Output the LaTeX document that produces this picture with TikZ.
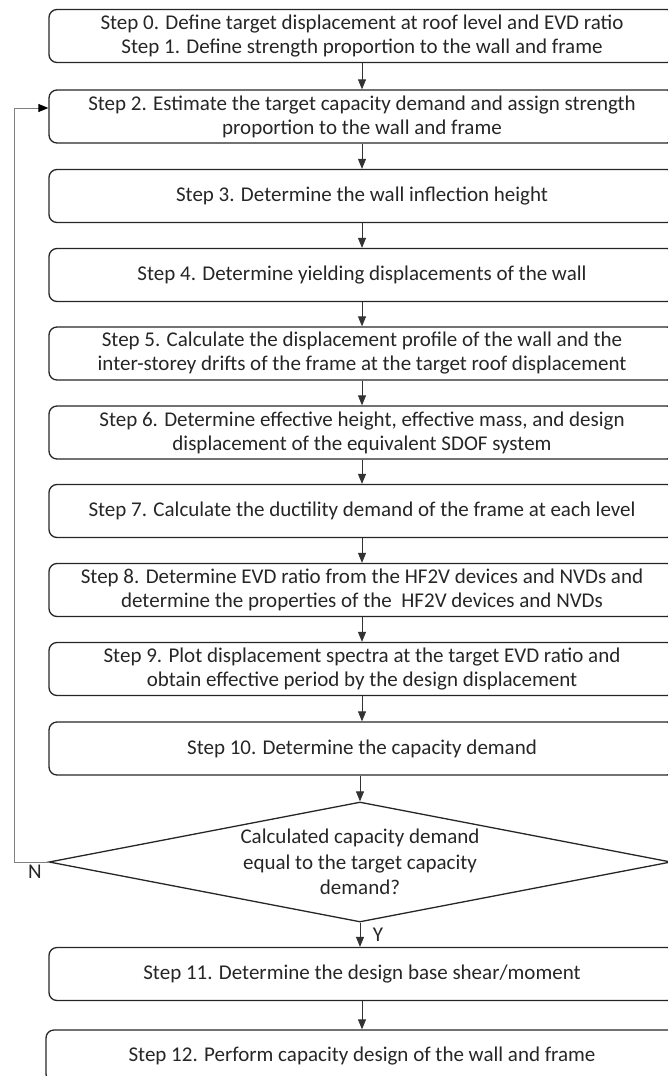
\documentclass[tikz,border=0pt]{standalone}
\usepackage{fontspec}
\setmainfont{Carlito}
\usetikzlibrary{shapes.geometric,arrows.meta}
\begin{document}
\begin{tikzpicture}[x=1pt,y=-1pt,
  stepbox/.style={draw=black!85, line width=1.3pt, rounded corners=8pt, minimum width=626pt, minimum height=53pt, inner sep=0pt, align=center, font=\fontsize{21}{24}\selectfont, text=black!85},
  decision/.style={diamond, draw=black!85, line width=1.3pt, minimum width=622pt, minimum height=120pt, inner sep=0pt, shape aspect=5.18, align=center, font=\fontsize{21}{25.5}\selectfont, text=black!85},
  flow/.style={draw=black!80, line width=0.9pt, -{Triangle[length=10pt,width=8pt]}},
  back/.style={draw=black!50, line width=1pt, -{Triangle[length=10pt,width=8pt,color=black]}},
  lbl/.style={font=\fontsize{21}{24}\selectfont, text=black!85, inner sep=0pt}]
\useasboundingbox (0,0) rectangle (668,1076);
\clip (0,0) rectangle (668,1076);
\node[stepbox] (b0) at (362,36) {Step 0. Define target displacement at roof level and EVD ratio\\Step 1. Define strength proportion to the wall and frame};
\node[stepbox] (b1) at (362,116.5) {Step 2. Estimate the target capacity demand and assign strength\\proportion to the wall and frame};
\node[stepbox] (b2) at (362,196) {Step 3. Determine the wall inflection height};
\node[stepbox] (b3) at (362,275) {Step 4. Determine yielding displacements of the wall};
\node[stepbox] (b4) at (362,353.5) {Step 5. Calculate the displacement profile of the wall and the\\inter-storey drifts of the frame at the target roof displacement};
\node[stepbox] (b5) at (362,432.5) {Step 6. Determine effective height, effective mass, and design\\displacement of the equivalent SDOF system};
\node[stepbox] (b6) at (362,511) {Step 7. Calculate the ductility demand of the frame at each level};
\node[stepbox] (b7) at (362,590) {Step 8. Determine EVD ratio from the HF2V devices and NVDs and\\determine the properties of the \ HF2V devices and NVDs};
\node[stepbox] (b8) at (362,669) {Step 9. Plot displacement spectra at the target EVD ratio and\\obtain effective period by the design displacement};
\node[stepbox] (b9) at (362,748.5) {Step 10. Determine the capacity demand};
\node[decision] (dia) at (360,862) {Calculated capacity demand\\equal to the target capacity\\demand?};
\node[stepbox] (b11) at (362,974) {Step 11. Determine the design base shear/moment};
\node[stepbox, minimum width=632pt, minimum height=52pt] (b12) at (362,1056) {Step 12. Perform capacity design of the wall and frame};
\draw[flow] (b0) -- (b1);
\draw[flow] (b1) -- (b2);
\draw[flow] (b2) -- (b3);
\draw[flow] (b3) -- (b4);
\draw[flow] (b4) -- (b5);
\draw[flow] (b5) -- (b6);
\draw[flow] (b6) -- (b7);
\draw[flow] (b7) -- (b8);
\draw[flow] (b8) -- (b9);
\draw[flow] (b9.south -| dia.north) -- (dia.north);
\draw[flow] (dia.south) -- (b11.north -| dia.south);
\draw[flow] (b11) -- (b12);
\coordinate (fb) at (14,108);
\draw[back] (dia.west) -| (fb) -- (b1.west |- fb);
\node[lbl] (nlab) at (35,872) {N};
\node[lbl] (ylab) at (378,935) {Y};
\end{tikzpicture}
\end{document}
